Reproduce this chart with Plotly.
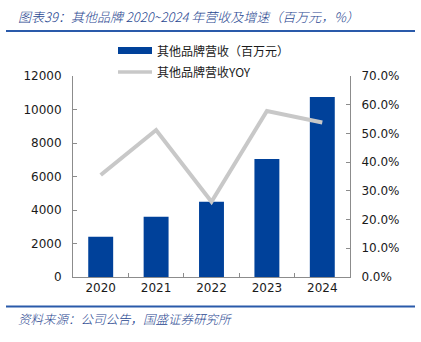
import plotly.graph_objects as go

years = ["2020", "2021", "2022", "2023", "2024"]
revenue = [2410, 3590, 4490, 7040, 10750]          # 百万元
yoy = [35.5, 51.2, 26.2, 57.8, 53.8]               # %
left_ticks = [0, 2000, 4000, 6000, 8000, 10000, 12000]
left_labels = ["0", "2000", "4000", "6000", "8000", "10000", "12000"]
right_ticks = [0, 10, 20, 30, 40, 50, 60, 70]
right_labels = ["0.0%", "10.0%", "20.0%", "30.0%", "40.0%", "50.0%", "60.0%", "70.0%"]

title_text = "图表39：其他品牌 2020~2024 年营收及增速（百万元，%）"
source_text = "资料来源：公司公告，国盛证券研究所"
bar_name = "其他品牌营收（百万元）"
line_name = "其他品牌营收YOY"

W, H = 421, 342
L, R, T, B = 73, 350, 76, 277
ml, mr, mt, mb = L, W - R, T, H - B

def px(x):
    return (x - L) / (R - L)

def py(y):
    return (B - y) / (B - T)

BLUE = "#00419A"
GRAY = "#C8C8C8"
AXIS = "#8C8C8C"
TXT = "#1a1a1a"
TITLE_BLUE = "#1F4690"

fig = go.Figure()
fig.add_trace(go.Bar(x=years, y=revenue, name=bar_name, marker=dict(color=BLUE, line=dict(width=0)),
                     yaxis="y", showlegend=False))
fig.add_trace(go.Scatter(x=years, y=yoy, name=line_name, mode="lines",
                         line=dict(color=GRAY, width=4), yaxis="y2", showlegend=False))

cjk = "Noto Sans CJK SC"
num_font = dict(family="DejaVu Sans", size=12, color=TXT)

fig.update_layout(
    width=W, height=H,
    margin=dict(l=ml, r=mr, t=mt, b=mb, pad=0),
    paper_bgcolor="white", plot_bgcolor="white",
    bargap=0.55,
    xaxis=dict(type="category", showline=True, linecolor=AXIS, linewidth=1,
               ticks="inside", tickson="boundaries", ticklen=4, tickcolor=AXIS,
               tickfont=num_font, showgrid=False, zeroline=False,
               range=[-0.5, 4.5]),
    yaxis=dict(range=[0, 12000], tickvals=left_ticks, ticktext=left_labels, showline=True,
               linecolor=AXIS, linewidth=1,
               ticks="inside", ticklen=4, tickcolor=AXIS, tickfont=num_font,
               showgrid=False, zeroline=False, ticklabelstandoff=8),
    yaxis2=dict(range=[0, 70], tickvals=right_ticks, ticktext=right_labels, overlaying="y",
                side="right", showline=True, linecolor=AXIS, linewidth=1,
                ticks="inside", ticklen=4, tickcolor=AXIS, tickfont=num_font,
                showgrid=False, zeroline=False, ticklabelstandoff=8),
    showlegend=False,
)

shapes = []
# header / footer rules
shapes.append(dict(type="line", xref="paper", yref="paper", x0=px(6), x1=px(415), y0=py(31), y1=py(31),
                   line=dict(color="#2A5AAA", width=2)))
shapes.append(dict(type="line", xref="paper", yref="paper", x0=px(6), x1=px(415), y0=py(306.5), y1=py(306.5),
                   line=dict(color="#2A5AAA", width=2)))
# legend swatches
shapes.append(dict(type="rect", xref="paper", yref="paper", x0=px(118), x1=px(152), y0=py(54), y1=py(47),
                   fillcolor=BLUE, line=dict(width=0)))
shapes.append(dict(type="line", xref="paper", yref="paper", x0=px(118), x1=px(152), y0=py(72), y1=py(72),
                   line=dict(color=GRAY, width=3.5)))
fig.update_layout(shapes=shapes)

ann = []
ann.append(dict(text=f"<i>{title_text}</i>", xref="paper", yref="paper", x=px(16), y=py(16),
                xanchor="left", yanchor="middle", showarrow=False,
                font=dict(family=cjk, size=13, color=TITLE_BLUE, weight=300)))
ann.append(dict(text=f"<i>{source_text}</i>", xref="paper", yref="paper", x=px(16), y=py(318),
                xanchor="left", yanchor="middle", showarrow=False,
                font=dict(family=cjk, size=12.5, color=TITLE_BLUE, weight=300)))
ann.append(dict(text=bar_name, xref="paper", yref="paper", x=px(155), y=py(50.5),
                xanchor="left", yanchor="middle", showarrow=False,
                font=dict(family=cjk, size=12, color=TXT)))
ann.append(dict(text=line_name, xref="paper", yref="paper", x=px(155), y=py(71),
                xanchor="left", yanchor="middle", showarrow=False,
                font=dict(family=cjk, size=12, color=TXT)))
fig.update_layout(annotations=ann)

fig.write_html("out.html")
